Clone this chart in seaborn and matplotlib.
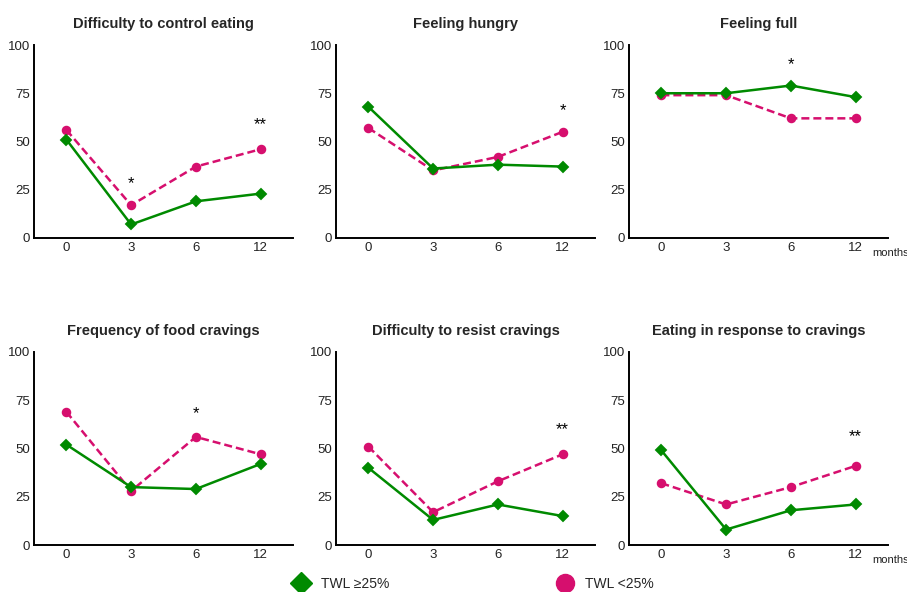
import matplotlib
matplotlib.use("Agg")
import matplotlib.pyplot as plt
from matplotlib.lines import Line2D
import seaborn as sns
import pandas as pd

months = ["0", "3", "6", "12"]
titles = [
    "Difficulty to control eating",
    "Feeling hungry",
    "Feeling full",
    "Frequency of food cravings",
    "Difficulty to resist cravings",
    "Eating in response to cravings",
]
twl_high = [  # TWL >=25%
    [51, 7, 19, 23],
    [68, 36, 38, 37],
    [75, 75, 79, 73],
    [52, 30, 29, 42],
    [40, 13, 21, 15],
    [49, 8, 18, 21],
]
twl_low = [  # TWL <25%
    [56, 17, 37, 46],
    [57, 35, 42, 55],
    [74, 74, 62, 62],
    [69, 28, 56, 47],
    [51, 17, 33, 47],
    [32, 21, 30, 41],
]
stars = [
    [("3", "*", 28), ("12", "**", 59)],
    [("12", "*", 66)],
    [("6", "*", 90)],
    [("6", "*", 68)],
    [("12", "**", 60)],
    [("12", "**", 56)],
]
groups = ["TWL ≥25%", "TWL <25%"]
GREEN = "#008A00"
PINK = "#D60F6E"

sns.set_style("white")
plt.rcParams["font.family"] = ["Liberation Sans", "DejaVu Sans"]

fig = plt.figure(figsize=(9.07, 5.92), dpi=100)
lefts = [34 / 907, 336 / 907, 629 / 907]
bottoms = [1 - 238 / 592, 1 - 545 / 592]
w = 259 / 907
h = 193 / 592

for i in range(6):
    r, c = divmod(i, 3)
    ax = fig.add_axes([lefts[c], bottoms[r], w, h])
    rows = []
    for m, v in zip(months, twl_low[i]):
        rows.append({"month": m, "value": v, "group": groups[1]})
    for m, v in zip(months, twl_high[i]):
        rows.append({"month": m, "value": v, "group": groups[0]})
    df = pd.DataFrame(rows)
    sns.pointplot(
        data=df, x="month", y="value", hue="group", order=months,
        hue_order=[groups[1], groups[0]],
        palette={groups[0]: GREEN, groups[1]: PINK},
        markers=["o", "D"], linestyles=["--", "-"],
        errorbar=None, markersize=5.5, linewidth=1.8, ax=ax, legend=False,
    )
    for ln in ax.lines:
        if ln.get_linestyle() == "--":
            ln.set_dashes([3.2, 1.6])
    ax.set_xlim(-0.5, 3.5)
    ax.set_ylim(0, 100)
    ax.set_yticks([0, 25, 50, 75, 100])
    ax.set_xlabel("")
    ax.set_ylabel("")
    ax.set_title(titles[i], fontsize=10.5, fontweight="bold", pad=12)
    for s in ["top", "right"]:
        ax.spines[s].set_visible(False)
    for s in ["left", "bottom"]:
        ax.spines[s].set_color("black")
        ax.spines[s].set_linewidth(1.4)
    ax.tick_params(axis="y", length=3, width=1, color="black", labelsize=9.5,
                   labelcolor="#222222", pad=0)
    ax.tick_params(axis="x", length=0, labelsize=9.5, labelcolor="#222222", pad=3)
    for m, s, y in stars[i]:
        ax.text(months.index(m), y, s, ha="center", va="center", fontsize=12,
                color="black")
    if c == 2:
        ax.text(0.938, -0.078, "months", transform=ax.transAxes, ha="left",
                va="center", fontsize=8, color="#222222", clip_on=False)

handles = [
    Line2D([], [], marker="D", color=GREEN, linestyle="none", markersize=11),
    Line2D([], [], marker="o", color=PINK, linestyle="none", markersize=13),
]
fig.legend(handles, groups, loc="center", bbox_to_anchor=(472 / 907, 1 - 584 / 592),
           ncol=2, frameon=False, fontsize=10, columnspacing=11.9, handletextpad=0.7,
           handlelength=1.5)

fig.savefig("out.png", dpi=100)
